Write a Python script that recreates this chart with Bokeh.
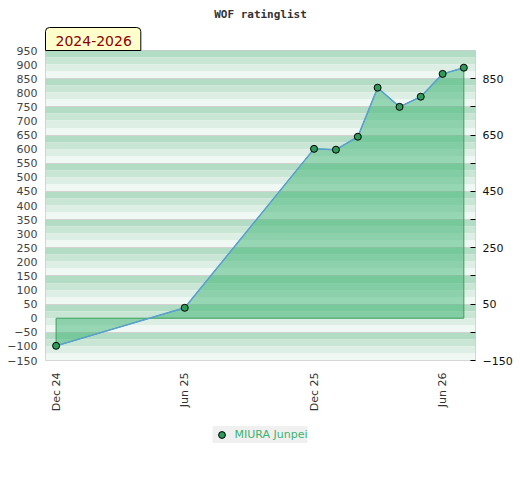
import pandas as pd
from bokeh.plotting import figure
from bokeh.layouts import column
from bokeh.models import (Range1d, FixedTicker, LinearAxis, DatetimeTickFormatter,
                          Title, Legend, LegendItem)
from bokeh.embed import file_html
from bokeh.resources import INLINE

title_text = "WOF ratinglist"
period_text = "2024-2026"
player = "MIURA Junpei"

months = ["2024-12-01", "2025-06-01", "2025-12-01", "2026-01-01", "2026-02-01",
          "2026-03-01", "2026-04-01", "2026-05-01", "2026-06-01", "2026-07-01"]
ratings = [-98, 37, 601, 598, 644, 818, 750, 786, 867, 889]

tick_dates = ["2024-12-01", "2025-06-01", "2025-12-01", "2026-06-01"]
tick_labels = ["Dec 24", "Jun 25", "Dec 25", "Jun 26"]
left_ticks = list(range(-150, 951, 50))
right_major = [-150, 50, 250, 450, 650, 850]
right_minor = [-50, 150, 350, 550, 750]
band_colors = ["#b3dcc4", "#c9e6d5", "#ddefe4", "#f0f8f3"]

epoch = pd.Timestamp("1970-01-01")
def to_ms(s):
    return float((pd.Timestamp(s) - epoch) / pd.Timedelta("1ms"))

x = [to_ms(m) for m in months]
day = 86400000.0
x_start = x[0] - 15 * day
x_end = x[-1] + 16.5 * day
tick_ms = [to_ms(t) for t in tick_dates]

p = figure(width=520, height=416, frame_width=430, frame_height=310,
           x_axis_type="datetime",
           x_range=Range1d(x_start, x_end), y_range=Range1d(-150, 950),
           output_backend="svg", toolbar_location=None,
           min_border_left=45, min_border_right=45, min_border_top=50, min_border_bottom=56,
           background_fill_color="white", border_fill_color="white",
           outline_line_color="#cccccc", outline_line_width=1)
p.title.visible = False

# background stripes
for b in range(-150, 950, 100):
    for k in range(4):
        top = b + 100 - 25 * k
        p.hstrip(y0=top - 25, y1=top, fill_color=band_colors[k], line_color=None, level="image")

p.xgrid.visible = False
p.ygrid.ticker = FixedTicker(ticks=list(range(-50, 851, 100)))
p.ygrid.grid_line_color = "#d2d2d2"
p.ygrid.grid_line_width = 1

# bottom axis
xa = p.xaxis[0]
xa.ticker = FixedTicker(ticks=tick_ms)
xa.formatter = DatetimeTickFormatter(
    milliseconds="%b %y", seconds="%b %y", minsec="%b %y", minutes="%b %y",
    hourmin="%b %y", hours="%b %y", days="%b %y", months="%b %y", years="%b %y")
xa.major_label_overrides = {t: l for t, l in zip(tick_ms, tick_labels)}
xa.major_label_orientation = 3.141592653589793 / 2
xa.axis_line_color = None
xa.major_tick_line_color = None
xa.minor_tick_line_color = None
xa.major_tick_in = 0
xa.major_tick_out = 0
xa.minor_tick_in = 0
xa.minor_tick_out = 0
xa.major_label_standoff = 12
xa.major_label_text_font = "DejaVu Sans"
xa.major_label_text_font_size = "11px"
xa.major_label_text_color = "#333333"

# left axis
ya = p.yaxis[0]
ya.ticker = FixedTicker(ticks=left_ticks)
ya.axis_line_color = None
ya.major_tick_in = 0
ya.major_tick_out = 0
ya.minor_tick_in = 0
ya.minor_tick_out = 0
ya.minor_tick_line_color = None
ya.major_label_standoff = 8
ya.major_label_text_font = "DejaVu Sans"
ya.major_label_text_font_size = "11px"
ya.major_label_text_color = "#444444"

# right axis
ra = LinearAxis(ticker=FixedTicker(ticks=right_major, minor_ticks=right_minor))
ra.axis_line_color = None
ra.major_tick_in = 5
ra.major_tick_out = 0
ra.minor_tick_in = 5
ra.minor_tick_out = 0
ra.major_tick_line_color = "black"
ra.minor_tick_line_color = "black"
ra.major_label_standoff = 7
ra.major_label_text_font = "DejaVu Sans"
ra.major_label_text_font_size = "11px"
ra.major_label_text_color = "#111111"
p.add_layout(ra, "right")

# area
px = [x[0]] + x + [x[-1]]
py = [0] + ratings + [0]
marker_style = dict(size=7, fill_color="#2e9b58", line_color="black", line_width=1)
p.patch(px, py, fill_color="#3cb371", fill_alpha=0.5, line_color="#3a9f5c", line_width=1)
p.line(x, ratings, line_color="#5a9fd6", line_width=1.5)
p.scatter(x, ratings, **marker_style)

p.add_layout(Title(text=period_text, align="left", text_font="DejaVu Sans",
                   text_font_size="14px", text_font_style="normal", text_color="#8b0000",
                   background_fill_color="#ffffcc", border_line_color="black",
                   border_line_width=1, standoff=0, offset=0,
                   padding=dict(left=10, right=9, top=8, bottom=5),
                   border_radius=dict(top_left=4, top_right=4, bottom_right=0, bottom_left=0)),
             "above")
p.add_layout(Title(text=title_text, align="center", text_font="DejaVu Sans Mono",
                   text_font_size="11px", text_font_style="bold", text_color="#333333",
                   standoff=9), "above")

# legend strip below the chart
lp = figure(width=520, height=64, x_range=p.x_range, y_range=p.y_range,
            x_axis_location=None, y_axis_location=None,
            output_backend="svg", toolbar_location=None, min_border=0,
            background_fill_color="white", border_fill_color="white",
            outline_line_color=None)
lp.title.visible = False
lp.grid.visible = False
lr = lp.scatter(x, ratings, visible=False, **marker_style)
legend = Legend(items=[LegendItem(label=player, renderers=[lr])], location="top_center",
                background_fill_color="#f0f0f0", background_fill_alpha=1,
                border_line_color=None, label_text_color="#3cb371",
                label_text_font="DejaVu Sans", label_text_font_size="11px",
                padding=2, spacing=0, margin=10, glyph_width=18, glyph_height=17,
                label_height=17, label_standoff=4, orientation="horizontal",
                inactive_fill_alpha=0)
lp.add_layout(legend)

open("out.html", "w").write(file_html(column(p, lp, spacing=0), INLINE))
